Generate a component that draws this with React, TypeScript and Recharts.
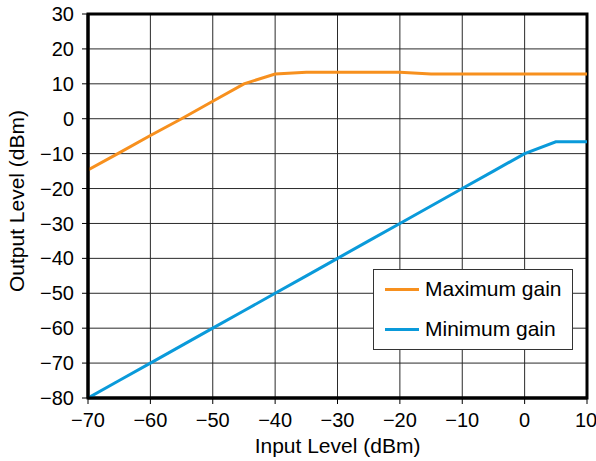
import React from 'react';
import { LineChart, Line, XAxis, YAxis, CartesianGrid, Legend, ReferenceArea } from 'recharts';

const inputLevels = [-70, -65, -60, -55, -50, -45, -40, -35, -30, -25, -20, -15, -10, -5, 0, 5, 10];
const maxGain = [-14.7, -9.8, -4.8, 0, 5, 10, 12.8, 13.3, 13.3, 13.3, 13.3, 12.8, 12.8, 12.8, 12.8, 12.8, 12.8];
const minGain = [-80, -75, -70, -65, -60, -55, -50, -45, -40, -35, -30, -25, -20, -15, -10, -6.6, -6.6];
const xTicks = [-70, -60, -50, -40, -30, -20, -10, 0, 10];
const yTicks = [-80, -70, -60, -50, -40, -30, -20, -10, 0, 10, 20, 30];
const seriesNames = ['Maximum gain', 'Minimum gain'];
const seriesColors = ['#F7901E', '#0A9ADA'];

const data = inputLevels.map((x, i) => ({ x, max: maxGain[i], min: minGain[i] }));

const FONT = '"Liberation Sans", Arial, Helvetica, sans-serif';
const fmt = (v: number) => String(v).replace('-', '\u2212');

const LegendBox = () => (
  <div
    style={{
      width: 198,
      height: 79,
      border: '1px solid #333',
      background: '#fff',
      fontFamily: FONT,
      fontSize: 21,
      color: '#000',
      position: 'relative',
    }}
  >
    {seriesNames.map((n, i) => (
      <div
        key={n}
        style={{ position: 'absolute', left: 11, top: 8 + i * 40, height: 22, display: 'flex', alignItems: 'center' }}
      >
        <div style={{ width: 34, height: 3, background: seriesColors[i], marginRight: 6 }} />
        <span style={{ lineHeight: '22px', whiteSpace: 'nowrap' }}>{n}</span>
      </div>
    ))}
  </div>
);

export default function App() {
  return (
    <div style={{ position: 'absolute', left: 0, top: 0, width: 596, height: 461, background: '#fff', fontFamily: FONT }}>
      <LineChart
        width={596}
        height={461}
        data={data}
        margin={{ top: 14, right: 9, left: 28, bottom: 23 }}
      >
        <CartesianGrid stroke="#2a2a2a" strokeWidth={1} vertical horizontal />
        <XAxis
          dataKey="x"
          type="number"
          domain={[-70, 10]}
          ticks={xTicks}
          height={40}
          tickFormatter={fmt}
          tickSize={6}
          tickMargin={9}
          axisLine={{ stroke: '#000', strokeWidth: 3 }}
          tickLine={{ stroke: '#000', strokeWidth: 1 }}
          tick={{ fill: '#000', fontSize: 20, fontFamily: FONT }}
          allowDataOverflow
        />
        <YAxis
          type="number"
          domain={[-80, 30]}
          ticks={yTicks}
          width={60}
          tickFormatter={fmt}
          tickSize={6}
          tickMargin={8}
          axisLine={{ stroke: '#000', strokeWidth: 3 }}
          tickLine={{ stroke: '#000', strokeWidth: 1 }}
          tick={{ fill: '#000', fontSize: 20, fontFamily: FONT }}
          allowDataOverflow
        />
        <ReferenceArea x1={-70} x2={10} y1={-80} y2={30} fill="none" stroke="#000" strokeWidth={3} fillOpacity={0} />
        <Legend
          layout="horizontal"
          verticalAlign="middle"
          align="center"
          content={() => <LegendBox />}
          wrapperStyle={{ left: 373, top: 269, width: 200, height: 81 }}
        />
        <Line
          dataKey="max"
          name={seriesNames[0]}
          stroke={seriesColors[0]}
          strokeWidth={3}
          dot={false}
          isAnimationActive={false}
        />
        <Line
          dataKey="min"
          name={seriesNames[1]}
          stroke={seriesColors[1]}
          strokeWidth={3}
          dot={false}
          isAnimationActive={false}
        />
      </LineChart>
      <div
        style={{
          position: 'absolute',
          left: 88,
          width: 499,
          top: 435,
          height: 22,
          lineHeight: '22px',
          textAlign: 'center',
          fontSize: 21,
          color: '#000',
          whiteSpace: 'nowrap',
        }}
      >
        Input Level (dBm)
      </div>
      <div
        style={{
          position: 'absolute',
          left: 17 - 150,
          top: 201 - 11,
          width: 300,
          height: 22,
          lineHeight: '22px',
          textAlign: 'center',
          fontSize: 21,
          color: '#000',
          whiteSpace: 'nowrap',
          transform: 'rotate(-90deg)',
        }}
      >
        Output Level (dBm)
      </div>
    </div>
  );
}
